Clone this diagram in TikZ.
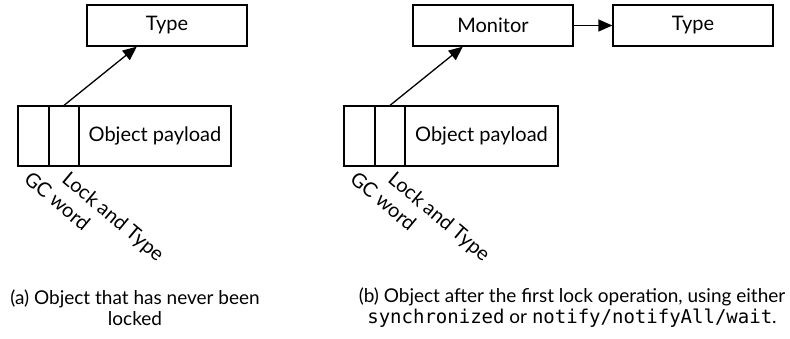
\documentclass[tikz,border=0pt]{standalone}
\usepackage{fontspec}
\setmainfont{Lato}
\setmonofont{DejaVu Sans Mono}
\usetikzlibrary{arrows.meta,calc}
\tikzset{
  cell/.style={draw, line width=0.65pt, minimum height=30pt, inner sep=0pt},
  hdr/.style={cell, minimum width=15pt},
  box/.style={cell, minimum width=80pt, minimum height=20.5pt},
  tag/.style={rotate=-40, anchor=north west, inner sep=0pt},
  ptr/.style={-{Triangle[length=7pt,width=6pt]}, line width=0.65pt},
  caption/.style={align=center, font=\fontsize{9.5}{10.5}\selectfont}
}
\begin{document}
\begin{tikzpicture}[x=0.5pt,y=-0.5pt]
\useasboundingbox (0,0) rectangle (790,338);
\node[box] (typeA) at (167,25.5) {Type};
\node[hdr, minimum width=15.5pt] (gcA) at (33.5,136) {};
\node[hdr] (lockA) at (64,136) {};
\node[cell, minimum width=76pt] (payA) at (155,136) {Object payload};
\node[tag] (gcTagA) at ($(gcA.south west)+(15,3)$) {GC word};
\node[tag] (lockTagA) at ($(lockA.south west)+(22,3)$) {Lock and Type};
\draw[ptr] (lockA.north) -- (typeA.215);

\node[box] (monB) at (493,25.5) {Monitor};
\node[box] (typeB) at (693,25.5) {Type};
\node[hdr, minimum width=15.5pt] (gcB) at (359.5,136) {};
\node[hdr] (lockB) at (390,136) {};
\node[cell, minimum width=76.5pt] (payB) at (481.5,136) {Object payload};
\node[tag] (gcTagB) at ($(gcB.south west)+(15,3)$) {GC word};
\node[tag] (lockTagB) at ($(lockB.south west)+(22,3)$) {Lock and Type};
\draw[ptr] (lockB.north) -- (monB.215);
\draw[ptr] (monB) -- (typeB);

\node[caption] (capA) at (135,307.5) {(a) Object that has never been\\locked};
\node[caption] (capB) at (572,307.5) {(b) Object after the first lock operation, using either\\\texttt{synchronized} or \texttt{notify/notifyAll/wait}.};
\end{tikzpicture}
\end{document}
